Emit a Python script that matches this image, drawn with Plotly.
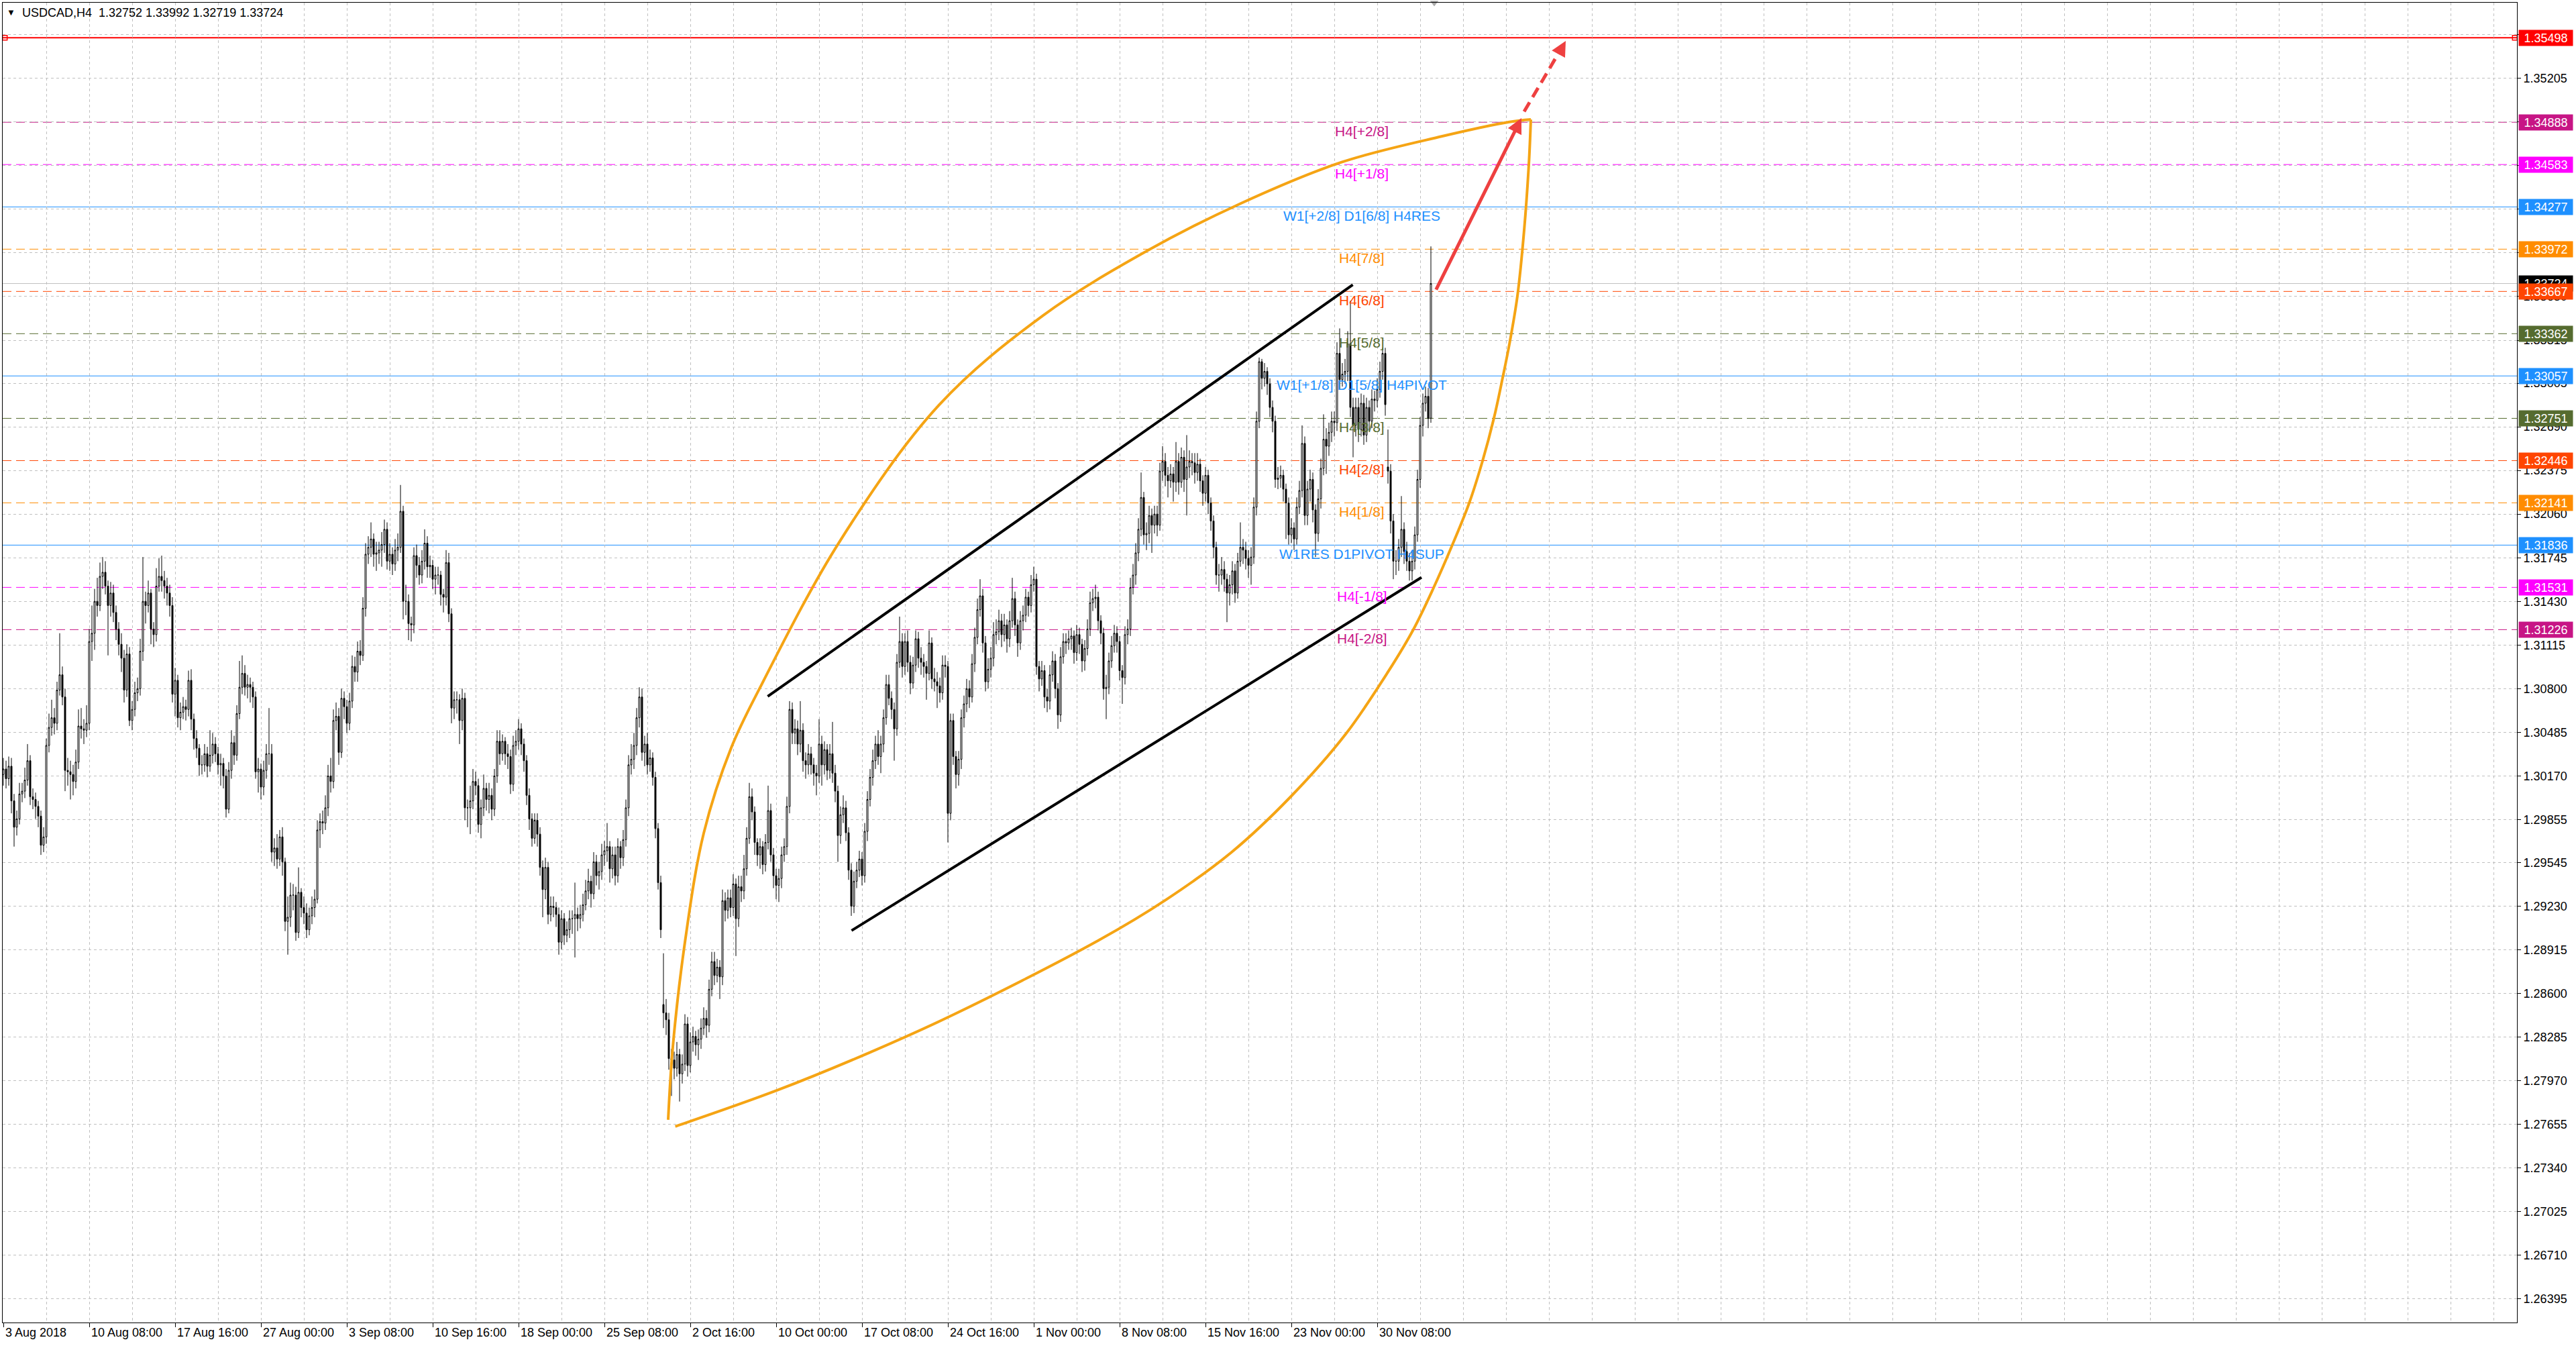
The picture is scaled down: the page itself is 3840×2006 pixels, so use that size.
import plotly.graph_objects as go

# ---------------- data ----------------
title_text = "USDCAD,H4\u00a0\u00a01.32752 1.33992 1.32719 1.33724"

bar_open = [
1.3018,1.3022,1.3015,1.3024,1.2999,1.2980,1.2986,1.3004,1.3006,1.3014,1.3028,1.3002,
1.3000,1.2995,1.2988,1.2967,1.2973,1.3039,1.3052,1.3059,1.3055,1.3079,1.3090,1.3074,
1.3021,1.3020,1.3018,1.3013,1.3027,1.3053,1.3051,1.3050,1.3055,1.3114,1.3120,1.3143,
1.3140,1.3161,1.3164,1.3154,1.3140,1.3149,1.3135,1.3123,1.3112,1.3102,1.3079,1.3105,
1.3057,1.3065,1.3077,1.3080,1.3107,1.3143,1.3140,1.3149,1.3123,1.3119,1.3154,1.3161,
1.3158,1.3154,1.3149,1.3140,1.3076,1.3086,1.3059,1.3063,1.3067,1.3065,1.3086,1.3058,
1.3044,1.3037,1.3025,1.3025,1.3033,1.3024,1.3032,1.3040,1.3033,1.3025,1.3026,1.3017,
1.2993,1.3021,1.3041,1.3032,1.3062,1.3081,1.3091,1.3081,1.3083,1.3081,1.3074,1.3020,
1.3022,1.3009,1.3021,1.3033,1.3033,1.2962,1.2965,1.2957,1.2973,1.2955,1.2912,1.2915,
1.2931,1.2931,1.2904,1.2933,1.2922,1.2918,1.2906,1.2916,1.2922,1.2928,1.2978,1.2984,
1.2983,1.2994,1.3017,1.3013,1.3057,1.3060,1.3034,1.3073,1.3067,1.3055,1.3071,1.3096,
1.3092,1.3107,1.3104,1.3138,1.3177,1.3182,1.3188,1.3177,1.3178,1.3180,1.3184,1.3195,
1.3172,1.3177,1.3170,1.3180,1.3182,1.3208,1.3143,1.3143,1.3127,1.3126,1.3176,1.3169,
1.3162,1.3172,1.3185,1.3168,1.3169,1.3159,1.3162,1.3162,1.3148,1.3146,1.3171,1.3134,
1.3066,1.3072,1.3072,1.3057,1.3073,1.2994,1.2994,1.2999,1.3013,1.3010,1.2982,1.2994,
1.3008,1.3000,1.3003,1.2993,1.3017,1.3042,1.3033,1.3042,1.3033,1.3031,1.3011,1.3039,
1.3042,1.3051,1.3040,1.3028,1.3003,1.2986,1.2972,1.2985,1.2975,1.2951,1.2935,1.2951,
1.2917,1.2923,1.2922,1.2917,1.2897,1.2914,1.2902,1.2906,1.2914,1.2914,1.2917,1.2914,
1.2917,1.2924,1.2934,1.2941,1.2932,1.2955,1.2945,1.2948,1.2960,1.2963,1.2966,1.2950,
1.2960,1.2945,1.2966,1.2958,1.2971,1.2994,1.3025,1.3029,1.3039,1.3059,1.3074,1.3034,
1.3040,1.3025,1.3030,1.3016,1.2979,1.2940,1.2852,1.2846,1.2841,1.2813,1.2812,1.2806,
1.2816,1.2802,1.2809,1.2838,1.2808,1.2825,1.2829,1.2823,1.2827,1.2835,1.2842,1.2837,
1.2863,1.2883,1.2873,1.2879,1.2872,1.2927,1.2920,1.2929,1.2922,1.2939,1.2914,1.2937,
1.2934,1.2950,1.2972,1.3002,1.2991,1.2969,1.2960,1.2966,1.2953,1.2969,1.2992,1.2960,
1.2945,1.2938,1.2943,1.2960,1.2966,1.2995,1.3065,1.3048,1.3051,1.3040,1.3050,1.3028,
1.3025,1.3033,1.3025,1.3019,1.3017,1.3040,1.3025,1.3036,1.3021,1.3033,1.3019,1.3006,
1.2974,1.2989,1.2994,1.2976,1.2949,1.2923,1.2941,1.2949,1.2957,1.2945,1.2977,1.3000,
1.3016,1.3028,1.3040,1.3031,1.3040,1.3059,1.3083,1.3073,1.3065,1.3051,1.3099,1.3114,
1.3096,1.3114,1.3099,1.3084,1.3097,1.3116,1.3102,1.3099,1.3096,1.3091,1.3113,1.3087,
1.3085,1.3082,1.3077,1.3097,1.3096,1.2990,1.3057,1.3031,1.3018,1.3029,1.3059,1.3069,
1.3080,1.3074,1.3098,1.3117,1.3137,1.3147,1.3113,1.3085,1.3094,1.3102,1.3119,1.3121,
1.3129,1.3119,1.3126,1.3116,1.3129,1.3145,1.3126,1.3113,1.3129,1.3133,1.3146,1.3140,
1.3155,1.3159,1.3096,1.3087,1.3093,1.3074,1.3071,1.3090,1.3100,1.3080,1.3061,1.3103,
1.3114,1.3113,1.3116,1.3118,1.3106,1.3119,1.3112,1.3100,1.3109,1.3123,1.3142,1.3145,
1.3146,1.3129,1.3120,1.3080,1.3081,1.3100,1.3111,1.3120,1.3114,1.3093,1.3088,1.3119,
1.3123,1.3153,1.3162,1.3178,1.3195,1.3218,1.3191,1.3192,1.3205,1.3198,1.3206,1.3198,
1.3237,1.3244,1.3234,1.3230,1.3235,1.3229,1.3244,1.3229,1.3247,1.3231,1.3240,1.3244,
1.3243,1.3236,1.3242,1.3230,1.3221,1.3234,1.3214,1.3201,1.3182,1.3162,1.3162,1.3166,
1.3159,1.3149,1.3155,1.3165,1.3149,1.3172,1.3182,1.3180,1.3174,1.3169,1.3175,1.3211,
1.3273,1.3316,1.3304,1.3309,1.3300,1.3283,1.3273,1.3231,1.3232,1.3234,1.3224,1.3214,
1.3191,1.3196,1.3188,1.3211,1.3223,1.3257,1.3205,1.3224,1.3231,1.3209,1.3192,1.3217,
1.3239,1.3260,1.3255,1.3265,1.3273,1.3272,1.3322,1.3303,1.3307,1.3309,1.3329,1.3283,
1.3270,1.3283,1.3267,1.3286,1.3263,1.3283,1.3273,1.3289,1.3288,1.3296,1.3309,1.3322,
1.3240,1.3237,1.3201,1.3172,1.3172,1.3182,1.3195,1.3179,1.3172,1.3165,1.3172,1.3191,
1.3231,1.3270,1.3286,1.3291,1.32752]

bar_high = [
1.3030,1.3028,1.3031,1.3030,1.3004,1.2992,1.3012,1.3012,1.3023,1.3040,1.3032,1.3008,
1.3005,1.2999,1.2992,1.2980,1.3044,1.3062,1.3072,1.3066,1.3085,1.3120,1.3096,1.3080,
1.3030,1.3028,1.3025,1.3036,1.3065,1.3066,1.3058,1.3068,1.3123,1.3140,1.3152,1.3160,
1.3171,1.3175,1.3172,1.3158,1.3157,1.3155,1.3140,1.3128,1.3120,1.3108,1.3112,1.3110,
1.3071,1.3085,1.3088,1.3116,1.3175,1.3150,1.3158,1.3152,1.3128,1.3167,1.3174,1.3176,
1.3165,1.3160,1.3155,1.3146,1.3095,1.3090,1.3070,1.3074,1.3072,1.3093,1.3094,1.3062,
1.3050,1.3040,1.3032,1.3040,1.3038,1.3050,1.3048,1.3045,1.3038,1.3033,1.3030,1.3022,
1.3027,1.3050,1.3046,1.3068,1.3100,1.3104,1.3097,1.3090,1.3088,1.3085,1.3078,1.3030,
1.3026,1.3028,1.3040,1.3066,1.3040,1.2972,1.2975,1.2978,1.2980,1.2958,1.2930,1.2940,
1.2939,1.2937,1.2951,1.2936,1.2930,1.2925,1.2922,1.2930,1.2935,1.2985,1.2990,1.2992,
1.3003,1.3025,1.3030,1.3065,1.3070,1.3066,1.3080,1.3078,1.3072,1.3077,1.3104,1.3103,
1.3114,1.3115,1.3146,1.3185,1.3190,1.3200,1.3192,1.3186,1.3186,1.3193,1.3202,1.3200,
1.3185,1.3182,1.3188,1.3192,1.3227,1.3212,1.3155,1.3148,1.3132,1.3182,1.3184,1.3175,
1.3180,1.3195,1.3190,1.3176,1.3173,1.3168,1.3168,1.3165,1.3152,1.3180,1.3178,1.3138,
1.3078,1.3078,1.3076,1.3080,1.3077,1.3000,1.3010,1.3022,1.3020,1.3015,1.3000,1.3018,
1.3012,1.3012,1.3008,1.3022,1.3050,1.3050,1.3047,1.3045,1.3040,1.3036,1.3046,1.3050,
1.3058,1.3055,1.3044,1.3032,1.3008,1.2990,1.2990,1.2990,1.2980,1.2956,1.2958,1.2955,
1.2930,1.2930,1.2926,1.2922,1.2920,1.2918,1.2912,1.2920,1.2920,1.2940,1.2922,1.2924,
1.2932,1.2942,1.2950,1.2945,1.2962,1.2960,1.2955,1.2968,1.2970,1.2983,1.2970,1.2966,
1.2966,1.2972,1.2970,1.2978,1.3000,1.3032,1.3040,1.3048,1.3066,1.3081,1.3080,1.3046,
1.3048,1.3036,1.3034,1.3020,1.2983,1.2945,1.2889,1.2856,1.2846,1.2820,1.2818,1.2825,
1.2820,1.2816,1.2845,1.2843,1.2832,1.2836,1.2833,1.2834,1.2842,1.2850,1.2848,1.2870,
1.2890,1.2890,1.2885,1.2884,1.2935,1.2933,1.2935,1.2935,1.2946,1.2943,1.2945,1.2945,
1.2960,1.2980,1.3012,1.3008,1.2995,1.2972,1.2972,1.2970,1.2975,1.3010,1.2997,1.2965,
1.2950,1.2950,1.2966,1.2972,1.3002,1.3071,1.3070,1.3058,1.3057,1.3071,1.3055,1.3034,
1.3040,1.3038,1.3030,1.3025,1.3058,1.3046,1.3042,1.3040,1.3040,1.3056,1.3025,1.3010,
1.2995,1.3003,1.2999,1.2980,1.2954,1.2948,1.2955,1.2963,1.2962,1.2983,1.3006,1.3022,
1.3036,1.3046,1.3050,1.3046,1.3065,1.3090,1.3090,1.3078,1.3070,1.3105,1.3132,1.3120,
1.3120,1.3122,1.3104,1.3103,1.3122,1.3121,1.3110,1.3105,1.3100,1.3122,1.3117,1.3095,
1.3092,1.3088,1.3104,1.3104,1.3100,1.3062,1.3062,1.3035,1.3035,1.3065,1.3075,1.3087,
1.3086,1.3105,1.3124,1.3145,1.3159,1.3152,1.3118,1.3102,1.3110,1.3128,1.3130,1.3137,
1.3134,1.3134,1.3130,1.3136,1.3160,1.3150,1.3130,1.3136,1.3140,1.3152,1.3150,1.3162,
1.3168,1.3163,1.3100,1.3100,1.3097,1.3080,1.3097,1.3107,1.3105,1.3084,1.3110,1.3120,
1.3120,1.3122,1.3124,1.3122,1.3126,1.3124,1.3116,1.3115,1.3130,1.3150,1.3152,1.3155,
1.3150,1.3133,1.3124,1.3090,1.3106,1.3118,1.3126,1.3125,1.3118,1.3097,1.3125,1.3130,
1.3160,1.3170,1.3185,1.3203,1.3236,1.3222,1.3200,1.3212,1.3210,1.3212,1.3212,1.3243,
1.3255,1.3250,1.3240,1.3242,1.3240,1.3258,1.3250,1.3254,1.3252,1.3263,1.3252,1.3250,
1.3250,1.3250,1.3246,1.3234,1.3240,1.3238,1.3218,1.3205,1.3186,1.3170,1.3175,1.3172,
1.3163,1.3162,1.3172,1.3170,1.3178,1.3200,1.3188,1.3186,1.3180,1.3182,1.3218,1.3280,
1.3319,1.3318,1.3315,1.3312,1.3304,1.3288,1.3277,1.3240,1.3241,1.3238,1.3228,1.3218,
1.3203,1.3200,1.3218,1.3230,1.3270,1.3262,1.3230,1.3238,1.3236,1.3213,1.3224,1.3246,
1.3278,1.3268,1.3272,1.3280,1.3280,1.3330,1.3340,1.3315,1.3318,1.3338,1.3360,1.3290,
1.3290,1.3290,1.3293,1.3292,1.3290,1.3288,1.3296,1.3295,1.3304,1.3316,1.3326,1.3326,
1.3267,1.3242,1.3206,1.3180,1.3188,1.3219,1.3200,1.3186,1.3178,1.3180,1.3197,1.3238,
1.3276,1.3293,1.3298,1.3297,1.33992]

bar_low = [
1.3010,1.3008,1.3010,1.2990,1.2966,1.2974,1.2982,1.2998,1.3001,1.3010,1.2996,1.2993,
1.2986,1.2980,1.2960,1.2962,1.2968,1.3034,1.3046,1.3047,1.3050,1.3075,1.3068,1.3006,
1.3010,1.3000,1.3003,1.3008,1.3022,1.3044,1.3040,1.3045,1.3050,1.3100,1.3108,1.3132,
1.3136,1.3152,1.3148,1.3104,1.3132,1.3128,1.3115,1.3104,1.3092,1.3070,1.3074,1.3053,
1.3050,1.3060,1.3071,1.3075,1.3100,1.3127,1.3135,1.3112,1.3110,1.3114,1.3150,1.3150,
1.3145,1.3140,1.3132,1.3070,1.3060,1.3052,1.3050,1.3058,1.3057,1.3060,1.3050,1.3036,
1.3030,1.3017,1.3018,1.3020,1.3016,1.3020,1.3026,1.3027,1.3018,1.3010,1.3008,1.2987,
1.2990,1.3015,1.3025,1.3028,1.3058,1.3076,1.3075,1.3073,1.3070,1.3066,1.3015,1.3005,
1.3000,1.3003,1.3015,1.3025,1.2955,1.2952,1.2950,1.2952,1.2945,1.2905,1.2888,1.2908,
1.2920,1.2898,1.2900,1.2915,1.2910,1.2900,1.2902,1.2910,1.2915,1.2925,1.2965,1.2975,
1.2978,1.2988,1.3005,1.3008,1.3050,1.3025,1.3030,1.3058,1.3048,1.3050,1.3066,1.3085,
1.3085,1.3097,1.3100,1.3132,1.3170,1.3175,1.3168,1.3165,1.3170,1.3168,1.3178,1.3166,
1.3165,1.3162,1.3165,1.3172,1.3178,1.3130,1.3133,1.3115,1.3114,1.3120,1.3160,1.3155,
1.3156,1.3166,1.3160,1.3160,1.3152,1.3148,1.3155,1.3140,1.3135,1.3140,1.3128,1.3055,
1.3058,1.3062,1.3040,1.3050,1.2985,1.2980,1.2975,1.2993,1.3003,1.2976,1.2972,1.2988,
1.2992,1.2990,1.2985,1.2988,1.3012,1.3025,1.3028,1.3025,1.3022,1.3004,1.3006,1.3032,
1.3036,1.3032,1.3020,1.2996,1.2978,1.2966,1.2968,1.2966,1.2945,1.2915,1.2928,1.2910,
1.2912,1.2915,1.2908,1.2888,1.2892,1.2895,1.2897,1.2900,1.2903,1.2886,1.2905,1.2907,
1.2912,1.2920,1.2928,1.2922,1.2928,1.2938,1.2935,1.2942,1.2952,1.2955,1.2940,1.2943,
1.2938,1.2940,1.2950,1.2952,1.2966,1.2988,1.3018,1.3022,1.3032,1.3052,1.3028,1.3024,
1.3018,1.3020,1.3010,1.2972,1.2935,1.2900,1.2835,1.2830,1.2805,1.2786,1.2798,1.2800,
1.2782,1.2795,1.2804,1.2800,1.2803,1.2818,1.2815,1.2812,1.2820,1.2830,1.2828,1.2832,
1.2858,1.2866,1.2868,1.2856,1.2866,1.2912,1.2914,1.2915,1.2916,1.2887,1.2908,1.2926,
1.2928,1.2945,1.2968,1.2985,1.2960,1.2952,1.2950,1.2946,1.2948,1.2964,1.2955,1.2936,
1.2928,1.2926,1.2936,1.2955,1.2960,1.2990,1.3040,1.3040,1.3032,1.3034,1.3020,1.3015,
1.3018,1.3018,1.3010,1.3003,1.3012,1.3010,1.3018,1.3014,1.3015,1.3012,1.2998,1.2955,
1.2968,1.2983,1.2970,1.2942,1.2916,1.2918,1.2936,1.2944,1.2938,1.2940,1.2970,1.2995,
1.3010,1.3022,1.3025,1.3019,1.3034,1.3054,1.3068,1.3058,1.3028,1.3046,1.3095,1.3088,
1.3090,1.3092,1.3076,1.3080,1.3092,1.3095,1.3090,1.3088,1.3072,1.3086,1.3080,1.3078,
1.3066,1.3070,1.3072,1.3088,1.2969,1.2985,1.3025,1.3008,1.3010,1.3022,1.3052,1.3063,
1.3066,1.3070,1.3092,1.3112,1.3132,1.3106,1.3078,1.3080,1.3088,1.3096,1.3112,1.3115,
1.3110,1.3114,1.3106,1.3110,1.3124,1.3118,1.3103,1.3108,1.3122,1.3128,1.3132,1.3135,
1.3150,1.3090,1.3078,1.3082,1.3066,1.3063,1.3065,1.3085,1.3073,1.3051,1.3056,1.3098,
1.3105,1.3108,1.3108,1.3098,1.3100,1.3105,1.3092,1.3093,1.3104,1.3118,1.3136,1.3138,
1.3122,1.3112,1.3072,1.3058,1.3076,1.3095,1.3106,1.3106,1.3086,1.3069,1.3083,1.3112,
1.3118,1.3148,1.3155,1.3172,1.3190,1.3184,1.3180,1.3185,1.3178,1.3192,1.3190,1.3194,
1.3230,1.3226,1.3218,1.3225,1.3215,1.3222,1.3220,1.3225,1.3222,1.3205,1.3232,1.3234,
1.3228,1.3230,1.3222,1.3212,1.3215,1.3206,1.3194,1.3174,1.3155,1.3150,1.3155,1.3150,
1.3128,1.3140,1.3148,1.3142,1.3145,1.3168,1.3170,1.3166,1.3160,1.3155,1.3170,1.3205,
1.3268,1.3296,1.3298,1.3292,1.3276,1.3265,1.3225,1.3224,1.3225,1.3215,1.3188,1.3184,
1.3185,1.3180,1.3184,1.3206,1.3218,1.3198,1.3198,1.3215,1.3200,1.3175,1.3186,1.3210,
1.3234,1.3235,1.3248,1.3258,1.3262,1.3266,1.3296,1.3298,1.3300,1.3302,1.3276,1.3247,
1.3262,1.3258,1.3262,1.3256,1.3258,1.3266,1.3268,1.3280,1.3283,1.3290,1.3303,1.3277,
1.3228,1.3192,1.3159,1.3162,1.3165,1.3175,1.3170,1.3165,1.3158,1.3158,1.3166,1.3186,
1.3225,1.3262,1.3280,1.3268,1.32719]

bar_close = [
1.3022,1.3015,1.3024,1.2999,1.2980,1.2986,1.3004,1.3006,1.3014,1.3028,1.3002,1.3000,
1.2995,1.2988,1.2967,1.2973,1.3039,1.3052,1.3059,1.3055,1.3079,1.3090,1.3074,1.3021,
1.3020,1.3018,1.3013,1.3027,1.3053,1.3051,1.3050,1.3055,1.3114,1.3120,1.3143,1.3140,
1.3161,1.3164,1.3154,1.3140,1.3149,1.3135,1.3123,1.3112,1.3102,1.3079,1.3105,1.3057,
1.3065,1.3077,1.3080,1.3107,1.3143,1.3140,1.3149,1.3123,1.3119,1.3154,1.3161,1.3158,
1.3154,1.3149,1.3140,1.3076,1.3086,1.3059,1.3063,1.3067,1.3065,1.3086,1.3058,1.3044,
1.3037,1.3025,1.3025,1.3033,1.3024,1.3032,1.3040,1.3033,1.3025,1.3026,1.3017,1.2993,
1.3021,1.3041,1.3032,1.3062,1.3081,1.3091,1.3081,1.3083,1.3081,1.3074,1.3020,1.3022,
1.3009,1.3021,1.3033,1.3033,1.2962,1.2965,1.2957,1.2973,1.2955,1.2912,1.2915,1.2931,
1.2931,1.2904,1.2933,1.2922,1.2918,1.2906,1.2916,1.2922,1.2928,1.2978,1.2984,1.2983,
1.2994,1.3017,1.3013,1.3057,1.3060,1.3034,1.3073,1.3067,1.3055,1.3071,1.3096,1.3092,
1.3107,1.3104,1.3138,1.3177,1.3182,1.3188,1.3177,1.3178,1.3180,1.3184,1.3195,1.3172,
1.3177,1.3170,1.3180,1.3182,1.3208,1.3143,1.3143,1.3127,1.3126,1.3176,1.3169,1.3162,
1.3172,1.3185,1.3168,1.3169,1.3159,1.3162,1.3162,1.3148,1.3146,1.3171,1.3134,1.3066,
1.3072,1.3072,1.3057,1.3073,1.2994,1.2994,1.2999,1.3013,1.3010,1.2982,1.2994,1.3008,
1.3000,1.3003,1.2993,1.3017,1.3042,1.3033,1.3042,1.3033,1.3031,1.3011,1.3039,1.3042,
1.3051,1.3040,1.3028,1.3003,1.2986,1.2972,1.2985,1.2975,1.2951,1.2935,1.2951,1.2917,
1.2923,1.2922,1.2917,1.2897,1.2914,1.2902,1.2906,1.2914,1.2914,1.2917,1.2914,1.2917,
1.2924,1.2934,1.2941,1.2932,1.2955,1.2945,1.2948,1.2960,1.2963,1.2966,1.2950,1.2960,
1.2945,1.2966,1.2958,1.2971,1.2994,1.3025,1.3029,1.3039,1.3059,1.3074,1.3034,1.3040,
1.3025,1.3030,1.3016,1.2979,1.2940,1.2906,1.2846,1.2841,1.2813,1.2812,1.2806,1.2816,
1.2802,1.2809,1.2838,1.2808,1.2825,1.2829,1.2823,1.2827,1.2835,1.2842,1.2837,1.2863,
1.2883,1.2873,1.2879,1.2872,1.2927,1.2920,1.2929,1.2922,1.2939,1.2914,1.2937,1.2934,
1.2950,1.2972,1.3002,1.2991,1.2969,1.2960,1.2966,1.2953,1.2969,1.2992,1.2960,1.2945,
1.2938,1.2943,1.2960,1.2966,1.2995,1.3065,1.3048,1.3051,1.3040,1.3050,1.3028,1.3025,
1.3033,1.3025,1.3019,1.3017,1.3040,1.3025,1.3036,1.3021,1.3033,1.3019,1.3006,1.2974,
1.2989,1.2994,1.2976,1.2949,1.2923,1.2941,1.2949,1.2957,1.2945,1.2977,1.3000,1.3016,
1.3028,1.3040,1.3031,1.3040,1.3059,1.3083,1.3073,1.3065,1.3051,1.3099,1.3114,1.3096,
1.3114,1.3099,1.3084,1.3097,1.3116,1.3102,1.3099,1.3096,1.3091,1.3113,1.3087,1.3085,
1.3082,1.3077,1.3097,1.3096,1.2990,1.3057,1.3031,1.3018,1.3029,1.3059,1.3069,1.3080,
1.3074,1.3098,1.3117,1.3137,1.3147,1.3113,1.3085,1.3094,1.3102,1.3119,1.3121,1.3129,
1.3119,1.3126,1.3116,1.3129,1.3145,1.3126,1.3113,1.3129,1.3133,1.3146,1.3140,1.3155,
1.3159,1.3096,1.3087,1.3093,1.3074,1.3071,1.3090,1.3100,1.3080,1.3061,1.3103,1.3114,
1.3113,1.3116,1.3118,1.3106,1.3119,1.3112,1.3100,1.3109,1.3123,1.3142,1.3145,1.3146,
1.3129,1.3120,1.3080,1.3081,1.3100,1.3111,1.3120,1.3114,1.3093,1.3088,1.3119,1.3123,
1.3153,1.3162,1.3178,1.3195,1.3218,1.3191,1.3192,1.3205,1.3198,1.3206,1.3198,1.3237,
1.3244,1.3234,1.3230,1.3235,1.3229,1.3244,1.3229,1.3247,1.3231,1.3240,1.3244,1.3243,
1.3236,1.3242,1.3230,1.3221,1.3234,1.3214,1.3201,1.3182,1.3162,1.3162,1.3166,1.3159,
1.3149,1.3155,1.3165,1.3149,1.3172,1.3182,1.3180,1.3174,1.3169,1.3175,1.3211,1.3273,
1.3316,1.3304,1.3309,1.3300,1.3283,1.3273,1.3231,1.3232,1.3234,1.3224,1.3214,1.3191,
1.3196,1.3188,1.3211,1.3223,1.3257,1.3205,1.3224,1.3231,1.3209,1.3192,1.3217,1.3239,
1.3260,1.3255,1.3265,1.3273,1.3272,1.3322,1.3303,1.3307,1.3309,1.3329,1.3283,1.3270,
1.3283,1.3267,1.3286,1.3263,1.3283,1.3273,1.3289,1.3288,1.3296,1.3309,1.3322,1.3285,
1.3237,1.3201,1.3172,1.3172,1.3182,1.3195,1.3179,1.3172,1.3165,1.3172,1.3191,1.3231,
1.3270,1.3286,1.3291,1.3275,1.33724]

# time axis labels (bar index -> label)
x_label_bars = [0, 32, 64, 96, 128, 160, 192, 224, 256, 288, 320, 352, 384, 416, 448, 480, 512]
x_label_text = ["3 Aug 2018", "10 Aug 08:00", "17 Aug 16:00", "27 Aug 00:00", "3 Sep 08:00",
                "10 Sep 16:00", "18 Sep 00:00", "25 Sep 08:00", "2 Oct 16:00", "10 Oct 00:00",
                "17 Oct 08:00", "24 Oct 16:00", "1 Nov 00:00", "8 Nov 08:00", "15 Nov 16:00",
                "23 Nov 00:00", "30 Nov 08:00"]

# price axis ticks
ytick_vals = [1.26395, 1.26710, 1.27025, 1.27340, 1.27655, 1.27970, 1.28285, 1.28600, 1.28915,
              1.29230, 1.29545, 1.29855, 1.30170, 1.30485, 1.30800, 1.31115, 1.31430, 1.31745,
              1.32060, 1.32375, 1.32690, 1.33005, 1.33315, 1.33630, 1.33945, 1.34260, 1.34575,
              1.34890, 1.35205, 1.35520]

# horizontal levels
level_prices = [1.35498, 1.34888, 1.34583, 1.34277, 1.33972, 1.33667, 1.33362, 1.33057,
                1.32751, 1.32446, 1.32141, 1.31836, 1.31531, 1.31226]
level_names = ["", "H4[+2/8]", "H4[+1/8]", "W1[+2/8] D1[6/8] H4RES", "H4[7/8]", "H4[6/8]",
               "H4[5/8]", "W1[+1/8] D1[5/8] H4PIVOT", "H4[3/8]", "H4[2/8]", "H4[1/8]",
               "W1RES D1PIVOT H4SUP", "H4[-1/8]", "H4[-2/8]"]
level_colors = ["#FF0000", "#C71585", "#FF00FF", "#1E90FF", "#FF8C00", "#FF4500", "#556B2F",
                "#1E90FF", "#556B2F", "#FF4500", "#FF8C00", "#1E90FF", "#FF00FF", "#C71585"]
level_dash = ["solid", "dash", "dash", "solid", "dash", "dash", "dash", "solid", "dash",
              "dash", "dash", "solid", "dash", "dash"]
current_price = 1.33724
level_label_bar = 506.25
chart_shift_bar = 533.25

# drawn objects (bar index, price)
channel_upper_bar = [284.85, 502.9]
channel_upper_price = [1.30744, 1.33715]
channel_lower_bar = [316.1, 528.5]
channel_lower_price = [1.29054, 1.31603]

arc_upper_bar = [247.75, 249.5, 254.1, 261.0, 271.25, 282.75, 311.5, 348.75, 387.5, 426.25,
                 461.25, 498.75, 536.25, 561.25, 569.25]
arc_upper_price = [1.27688, 1.28216, 1.28983, 1.29756, 1.30373, 1.30836, 1.31857, 1.32848,
                   1.33494, 1.33960, 1.34303, 1.34600, 1.34787, 1.34890, 1.34908]
arc_lower_bar = [250.4, 288.5, 323.0, 353.75, 408.125, 433.5, 457.75, 479.6, 500.25, 516.25,
                 525.5, 533.0, 540.0, 546.25, 551.25, 555.5, 558.75, 561.25, 564.25, 566.75,
                 568.5, 569.25]
arc_lower_price = [1.27640, 1.27902, 1.28175, 1.28444, 1.28983, 1.29279, 1.29620, 1.30017,
                   1.30472, 1.30928, 1.31228, 1.31528, 1.31838, 1.32138, 1.32443, 1.32753,
                   1.33044, 1.33286, 1.33635, 1.34109, 1.34584, 1.34908]

arrow_solid_bar = [533.75, 565.75]
arrow_solid_price = [1.33673, 1.34918]
arrow_dash_bar = [566.75, 582.25]
arrow_dash_price = [1.34965, 1.35475]

# ---------------- figure ----------------
W, H = 3840, 2006
x_range = [-0.25, 936.75]
y_range = [1.26225, 1.35751]
FONT = "Liberation Sans, Arial, sans-serif"
GRID = "#C0C0C0"
RED_ARROW = "#EE4040"

n = len(bar_close)
bars = list(range(n))

fig = go.Figure()

fig.add_trace(go.Candlestick(
    x=bars, open=bar_open, high=bar_high, low=bar_low, close=bar_close,
    increasing=dict(line=dict(color="black", width=1), fillcolor="white"),
    decreasing=dict(line=dict(color="black", width=1), fillcolor="black"),
    whiskerwidth=0, hoverinfo="skip", showlegend=False))

# channel lines
for bx, py in [(channel_upper_bar, channel_upper_price), (channel_lower_bar, channel_lower_price)]:
    fig.add_trace(go.Scatter(x=bx, y=py, mode="lines", line=dict(color="black", width=4),
                             hoverinfo="skip", showlegend=False))

# orange arcs
for bx, py in [(arc_upper_bar, arc_upper_price), (arc_lower_bar, arc_lower_price)]:
    fig.add_trace(go.Scatter(x=bx, y=py, mode="lines",
                             line=dict(color="#F5A414", width=4, shape="spline", smoothing=1.0),
                             hoverinfo="skip", showlegend=False))

# red dashed projection
fig.add_trace(go.Scatter(x=arrow_dash_bar, y=arrow_dash_price, mode="lines",
                         line=dict(color=RED_ARROW, width=5, dash="16px,9px"),
                         hoverinfo="skip", showlegend=False))

# red line end markers
fig.add_trace(go.Scatter(x=[x_range[0] + 0.8, x_range[1] - 0.8], y=[level_prices[0]] * 2,
                         mode="markers", marker=dict(symbol="square-open", size=7, color="#FF0000",
                                                     line=dict(width=1.5, color="#FF0000")),
                         cliponaxis=False, hoverinfo="skip", showlegend=False))

# chart shift marker at the top
fig.add_trace(go.Scatter(x=[chart_shift_bar], y=[y_range[1]], mode="markers",
                         marker=dict(symbol="triangle-down", size=11, color="#A9A9A9"),
                         cliponaxis=False, hoverinfo="skip", showlegend=False))

shapes = []
for p, c, d in zip(level_prices, level_colors, level_dash):
    shapes.append(dict(type="line", xref="paper", x0=0, x1=1, yref="y", y0=p, y1=p,
                       layer="between",
                       line=dict(color=c, width=2 if c == "#FF0000" else 1,
                                 dash="13px,7px" if d == "dash" else "solid")))
shapes.append(dict(type="line", xref="paper", x0=0, x1=1, yref="y", y0=current_price,
                   y1=current_price, layer="between", line=dict(color="#BFBFBF", width=1)))

annotations = []
# level captions
for p, name, c in zip(level_prices, level_names, level_colors):
    if not name:
        continue
    annotations.append(dict(x=level_label_bar, xref="x", y=p, yref="y", text=name,
                            showarrow=False, xanchor="center", yanchor="top", yshift=0,
                            font=dict(family=FONT, size=21, color=c)))

# right-side price boxes
box_items = [(p, c) for p, c in zip(level_prices, level_colors)]
box_items.insert(5, (current_price, "#000000"))
for p, c in box_items:
    annotations.append(dict(x=1, xref="paper", y=p, yref="y", text=f"{p:.5f}",
                            showarrow=False, xanchor="left", yanchor="middle", xshift=2,
                            width=78, height=21, borderpad=1, bgcolor=c, align="center",
                            font=dict(family=FONT, size=18, color="white")))

# time labels
for b, t in zip(x_label_bars, x_label_text):
    annotations.append(dict(x=b, xref="x", y=0, yref="paper", text=t, showarrow=False,
                            xanchor="left", yanchor="top", yshift=-3, xshift=1,
                            font=dict(family=FONT, size=18, color="black")))

# title
annotations.append(dict(x=0, xref="paper", y=1, yref="paper", xanchor="left", yanchor="top",
                        text="\u25BC", showarrow=False, xshift=4, yshift=-5,
                        font=dict(family=FONT, size=13, color="black")))
annotations.append(dict(x=0, xref="paper", y=1, yref="paper", xanchor="left", yanchor="top",
                        text=title_text, showarrow=False, xshift=27, yshift=-3,
                        font=dict(family=FONT, size=18, color="black")))

# red arrows (heads)
annotations.append(dict(x=arrow_solid_bar[1], y=arrow_solid_price[1], xref="x", yref="y",
                        ax=arrow_solid_bar[0], ay=arrow_solid_price[0], axref="x", ayref="y",
                        showarrow=True, arrowhead=2, arrowsize=0.9, arrowwidth=5,
                        arrowcolor=RED_ARROW, text=""))
annotations.append(dict(x=arrow_dash_bar[1], y=arrow_dash_price[1], xref="x", yref="y",
                        ax=arrow_dash_bar[1] - 2, ay=arrow_dash_price[1] - 0.0007,
                        axref="x", ayref="y",
                        showarrow=True, arrowhead=2, arrowsize=0.9, arrowwidth=5,
                        arrowcolor=RED_ARROW, text=""))

grid_bars = list(range(0, int(x_range[1]) + 1, 16))

fig.update_layout(
    width=W, height=H,
    margin=dict(l=4, r=88, t=4, b=35),
    paper_bgcolor="white", plot_bgcolor="white",
    showlegend=False, hovermode=False,
    shapes=shapes, annotations=annotations,
    xaxis=dict(range=x_range, showline=True, mirror=True, linecolor="black", linewidth=1,
               tickmode="array", tickvals=x_label_bars, ticks="outside", ticklen=6,
               tickcolor="black", showticklabels=False, showgrid=False, zeroline=False,
               rangeslider=dict(visible=False),
               minor=dict(tickmode="array", tickvals=grid_bars, showgrid=True, gridcolor=GRID,
                          griddash="4px,4px", gridwidth=1, ticks="")),
    yaxis=dict(range=y_range, side="right", showline=True, mirror=True, linecolor="black",
               linewidth=1, tickmode="array", tickvals=ytick_vals,
               ticktext=[f"{v:.5f}" for v in ytick_vals], ticks="outside", ticklen=5,
               tickcolor="black", tickfont=dict(family=FONT, size=18, color="black"),
               showgrid=True, gridcolor=GRID, griddash="4px,4px", gridwidth=1, zeroline=False),
)

fig.write_html("out.html", config={"displayModeBar": False},
               post_script="document.body.style.margin='0';document.body.style.overflow='hidden';")
